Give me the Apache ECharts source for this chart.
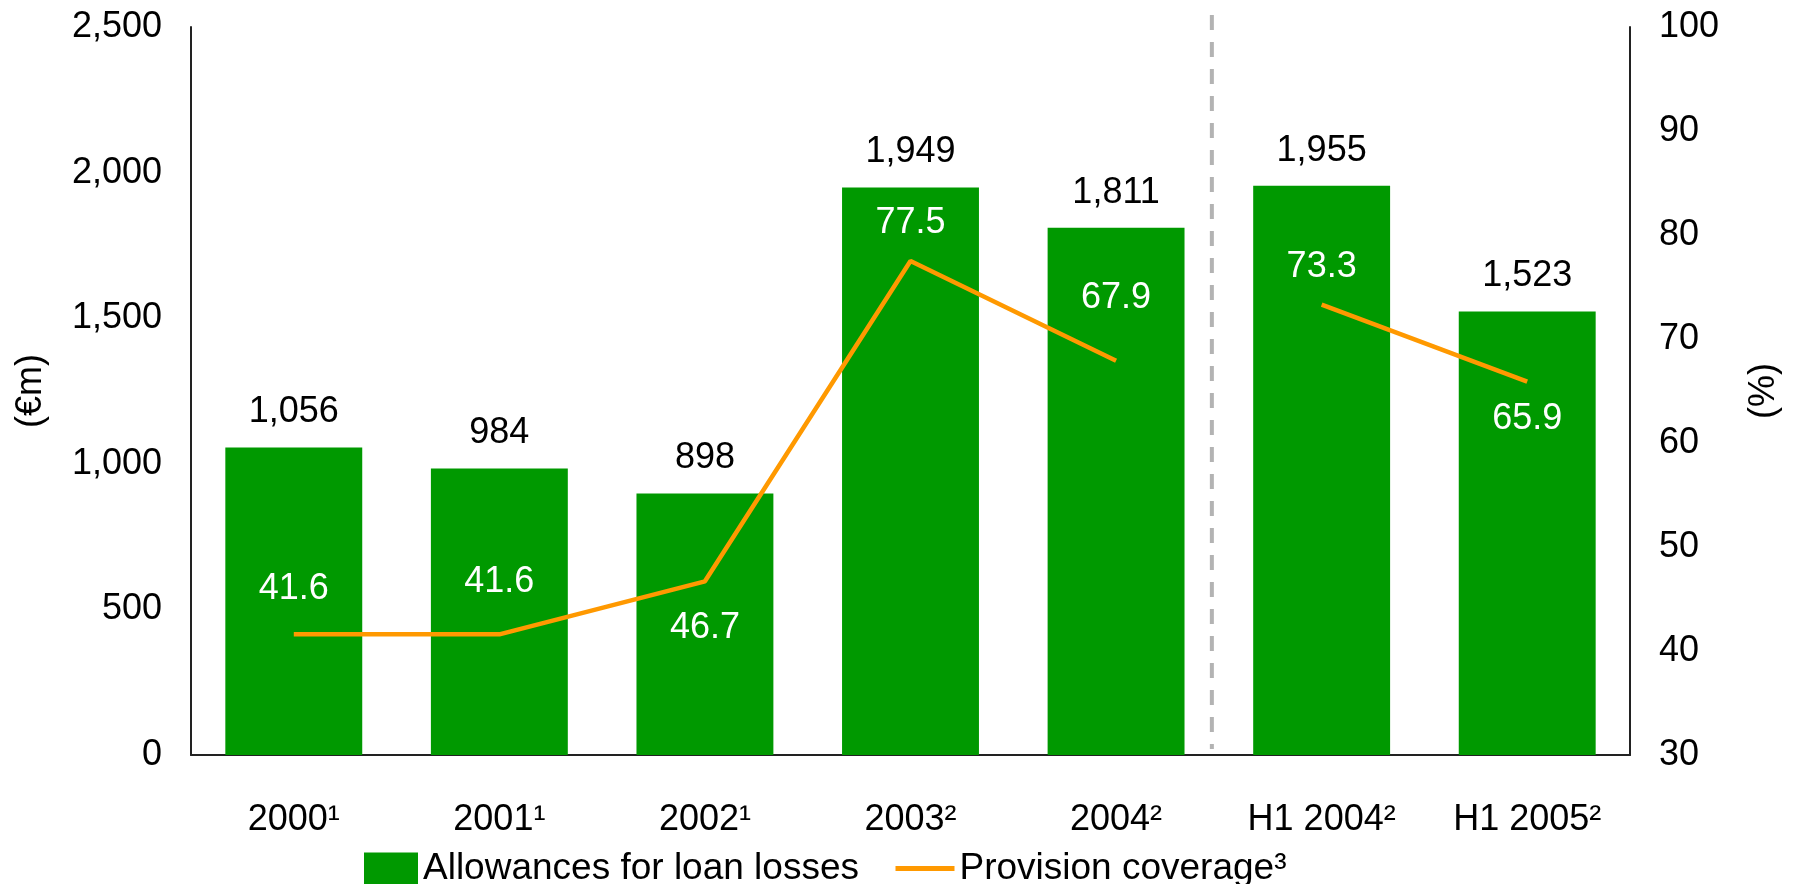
<!DOCTYPE html>
<html>
<head>
<meta charset="utf-8">
<title>Allowances for loan losses and provision coverage</title>
<script src="https://cdn.jsdelivr.net/npm/echarts@6/dist/echarts.min.js"></script>
<style>
  html, body { margin: 0; padding: 0; background: #ffffff; }
  #chart { width: 1796px; height: 884px; }
</style>
</head>
<body>
<div id="chart"></div>
<script>
// Periods shown on the category axis
const categories = ['2000\u00b9', '2001\u00b9', '2002\u00b9', '2003\u00b2', '2004\u00b2', 'H1 2004\u00b2', 'H1 2005\u00b2'];

// Allowances for loan losses (€m)
const allowances = [1056, 984, 898, 1949, 1811, 1955, 1523];

// Provision coverage (%) – full years, then half years
const coverageYears = [41.6, 41.6, 46.7, 77.5, 67.9];
const coverageHalfYears = [73.3, 65.9];

// Axis ticks
const leftTicks = [0, 500, 1000, 1500, 2000, 2500];
const rightTicks = [30, 40, 50, 60, 70, 80, 90, 100];

const FONT = '"Liberation Sans", Arial, Helvetica, sans-serif';
const GREEN = '#009900';
const ORANGE = '#FF9900';
const BAR_NAME = 'Allowances for loan losses';
const LINE_NAME = 'Provision coverage\u00b3';

// Where each coverage label sits relative to its point
const coverageLabelPlacement = [
  ['top', 27], ['top', 34], ['bottom', 29], ['top', 20], ['top', 45],
  ['top', 20], ['bottom', 19]
];

const fullYearCount = coverageYears.length;

function lineData(values, startIndex) {
  const out = categories.map(() => null);
  values.forEach((v, i) => {
    const idx = startIndex + i;
    const [pos, dist] = coverageLabelPlacement[idx];
    out[idx] = { value: v, label: { position: pos, distance: dist } };
  });
  return out;
}

function lineSeries(values, startIndex) {
  return {
    name: LINE_NAME,
    type: 'line',
    yAxisIndex: 1,
    data: lineData(values, startIndex),
    symbol: 'circle',
    symbolSize: 0,
    lineStyle: { color: ORANGE, width: 4.5 },
    itemStyle: { color: ORANGE },
    label: {
      show: true,
      color: '#ffffff',
      fontSize: 36,
      fontFamily: FONT,
      formatter: p => p.value.toFixed(1)
    },
    z: 3
  };
}

const legendText = { fontSize: 37, color: '#000', fontFamily: FONT };

const chart = echarts.init(document.getElementById('chart'), null, { renderer: 'canvas' });

chart.setOption({
  animation: false,
  backgroundColor: '#ffffff',
  textStyle: { fontFamily: FONT },
  grid: { left: 191, right: 166, top: 27, bottom: 129, containLabel: false },
  legend: [
    {
      left: 359,
      top: 845,
      itemWidth: 54,
      itemHeight: 32,
      textStyle: legendText,
      data: [{ name: BAR_NAME, icon: 'rect' }]
    },
    {
      left: 888,
      top: 845,
      itemWidth: 59,
      itemHeight: 5,
      textStyle: legendText,
      lineStyle: { width: 5, color: ORANGE },
      data: [{ name: LINE_NAME }]
    }
  ],
  xAxis: {
    type: 'category',
    data: categories,
    axisLine: { lineStyle: { color: '#222', width: 2 } },
    axisTick: { show: false },
    axisLabel: { fontSize: 36, color: '#000', margin: 47, fontFamily: FONT }
  },
  yAxis: [
    {
      type: 'value',
      min: leftTicks[0],
      max: leftTicks[leftTicks.length - 1],
      interval: leftTicks[1] - leftTicks[0],
      name: '(\u20acm)',
      nameLocation: 'middle',
      nameGap: 142,
      nameRotate: 90,
      nameTextStyle: { fontSize: 36, color: '#000', fontFamily: FONT },
      axisLine: { show: true, lineStyle: { color: '#222', width: 2 } },
      axisTick: { show: false },
      splitLine: { show: false },
      axisLabel: {
        fontSize: 36, color: '#000', margin: 29, fontFamily: FONT,
        formatter: v => v.toLocaleString('en-US')
      }
    },
    {
      type: 'value',
      min: rightTicks[0],
      max: rightTicks[rightTicks.length - 1],
      interval: rightTicks[1] - rightTicks[0],
      name: '(%)',
      nameLocation: 'middle',
      nameGap: 116,
      nameRotate: 90,
      nameTextStyle: { fontSize: 36, color: '#000', fontFamily: FONT },
      axisLine: { show: true, lineStyle: { color: '#222', width: 2 } },
      axisTick: { show: false },
      splitLine: { show: false },
      axisLabel: { fontSize: 36, color: '#000', margin: 29, fontFamily: FONT }
    }
  ],
  series: [
    {
      name: BAR_NAME,
      type: 'bar',
      yAxisIndex: 0,
      data: allowances,
      barWidth: '66.6%',
      itemStyle: { color: GREEN },
      label: {
        show: true,
        position: 'top',
        distance: 17,
        fontSize: 36,
        color: '#000',
        fontFamily: FONT,
        formatter: p => p.value.toLocaleString('en-US')
      },
      z: 2
    },
    lineSeries(coverageYears, 0),
    lineSeries(coverageHalfYears, fullYearCount)
  ]
});

// Dashed divider between the full-year and half-year periods
const xLast = chart.convertToPixel({ xAxisIndex: 0 }, categories[fullYearCount - 1]);
const xFirstHalf = chart.convertToPixel({ xAxisIndex: 0 }, categories[fullYearCount]);
const yBottom = chart.convertToPixel({ yAxisIndex: 0 }, leftTicks[0]);
const yTop = chart.convertToPixel({ yAxisIndex: 0 }, leftTicks[leftTicks.length - 1]);
const xDivider = (xLast + xFirstHalf) / 2 - 7;

chart.setOption({
  graphic: [{
    type: 'line',
    shape: { x1: xDivider, y1: yTop - 12, x2: xDivider, y2: yBottom - 6 },
    style: { stroke: '#B3B3B3', lineWidth: 4, lineDash: [15, 12] },
    z: 1
  }]
});
</script>
</body>
</html>
